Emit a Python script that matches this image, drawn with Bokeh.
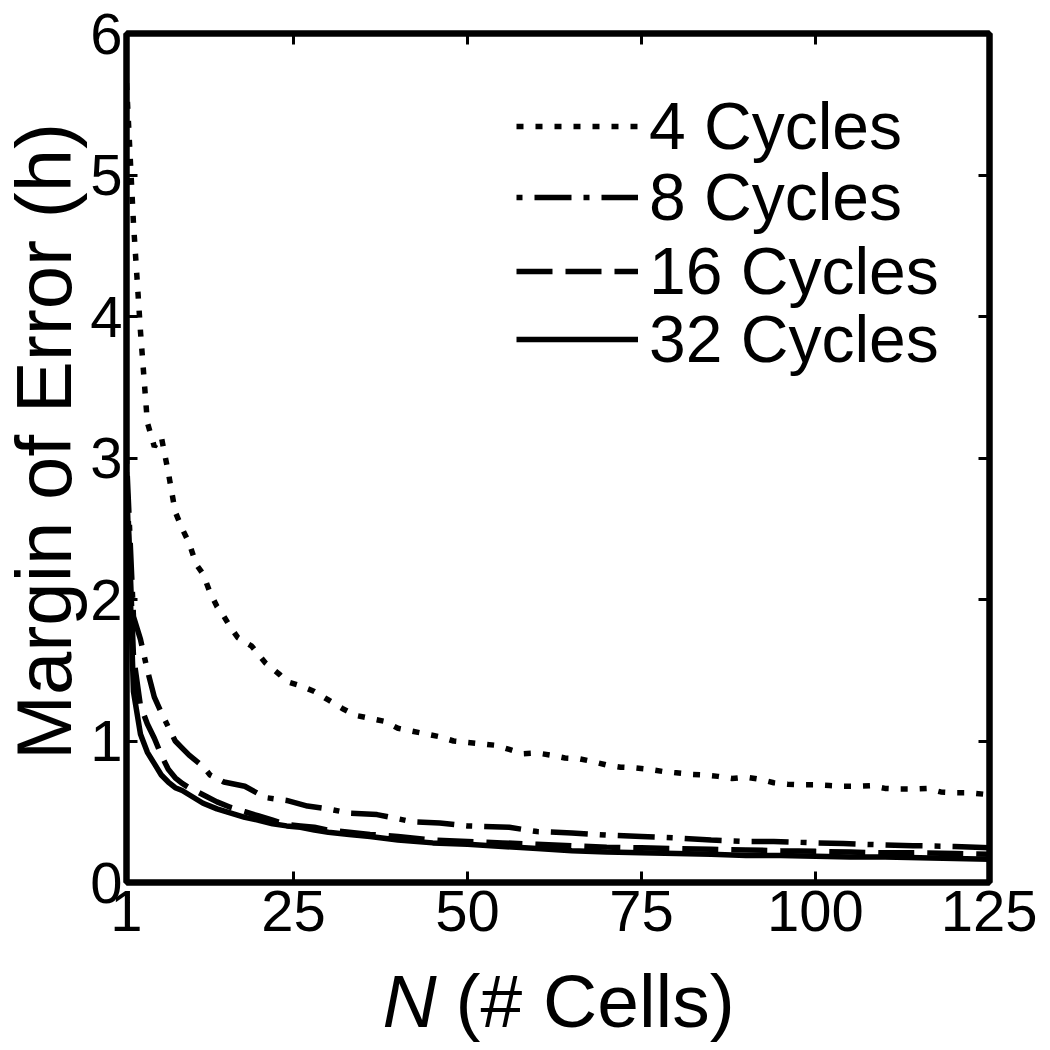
import math
from bokeh.plotting import figure
from bokeh.layouts import row, column
from bokeh.models import Label, Legend, LegendItem, LinearAxis, FixedTicker, Range1d
from bokeh.embed import file_html
from bokeh.resources import INLINE

# ---- data ----
x_ticks = [1, 25, 50, 75, 100, 125]
y_ticks = [0, 1, 2, 3, 4, 5, 6]

n4 = [1, 2, 3, 4, 5, 6, 7, 8, 9, 10, 11, 12, 13, 14, 15, 16, 17, 18, 19, 20, 21, 22, 23, 24,
      26, 28, 30, 32, 34, 36, 38, 40, 42, 44, 46, 48, 50, 52, 54, 56, 58, 60, 62, 64, 66, 68,
      70, 72, 74, 76, 78, 80, 82, 84, 86, 88, 90, 92, 94, 96, 98, 100, 102, 104, 106, 108,
      110, 112, 114, 116, 118, 120, 122, 125]
c4 = [5.65, 4.66, 3.9, 3.25, 3.08, 3.15, 2.9, 2.62, 2.5, 2.4, 2.25, 2.18, 2.05, 1.95, 1.88,
      1.8, 1.73, 1.7, 1.67, 1.61, 1.55, 1.51, 1.47, 1.42, 1.39, 1.35, 1.29, 1.23, 1.18, 1.16,
      1.14, 1.09, 1.07, 1.05, 1.03, 1.0, 0.99, 0.98, 0.97, 0.94, 0.91, 0.915, 0.9, 0.88, 0.875,
      0.855, 0.83, 0.815, 0.81, 0.8, 0.785, 0.775, 0.765, 0.76, 0.75, 0.735, 0.745, 0.73, 0.705,
      0.695, 0.69, 0.69, 0.685, 0.68, 0.68, 0.685, 0.665, 0.66, 0.66, 0.665, 0.64, 0.635,
      0.635, 0.62]

n8 = [1, 2, 3, 4, 5, 6, 7, 8, 9, 10, 12, 13, 15, 18, 21, 24, 27, 30, 33, 37, 42, 46, 50, 56,
      60, 65, 70, 75, 80, 85, 90, 94, 100, 104, 110, 114, 120, 125]
c8 = [3.0, 1.88, 1.72, 1.5, 1.31, 1.2, 1.1, 1.0, 0.95, 0.9, 0.82, 0.76, 0.71, 0.68, 0.6, 0.58,
      0.54, 0.52, 0.49, 0.48, 0.43, 0.42, 0.4, 0.39, 0.36, 0.35, 0.335, 0.325, 0.315, 0.3,
      0.29, 0.29, 0.28, 0.275, 0.265, 0.26, 0.255, 0.245]

n16 = [1, 2, 3, 4, 5, 6, 7, 8, 9, 10, 12, 14, 16, 18, 20, 22, 24, 26, 28, 30, 33, 36, 40, 45,
       50, 55, 60, 65, 70, 75, 80, 85, 90, 95, 100, 105, 110, 115, 120, 125]
c16 = [2.9, 1.6, 1.25, 1.12, 1.02, 0.9, 0.8, 0.74, 0.7, 0.67, 0.62, 0.57, 0.53, 0.5, 0.47,
       0.44, 0.41, 0.4, 0.39, 0.37, 0.355, 0.34, 0.325, 0.3, 0.29, 0.28, 0.27, 0.26, 0.25,
       0.245, 0.24, 0.235, 0.23, 0.225, 0.22, 0.215, 0.21, 0.21, 0.205, 0.2]

n32 = [1, 2, 3, 4, 5, 6, 7, 8, 9, 10, 12, 14, 16, 18, 20, 22, 24, 26, 28, 30, 33, 36, 40, 45,
       50, 55, 60, 65, 70, 75, 80, 85, 90, 95, 100, 105, 110, 115, 120, 125]
c32 = [2.85, 1.35, 1.05, 0.92, 0.84, 0.76, 0.71, 0.67, 0.65, 0.62, 0.56, 0.52, 0.49, 0.46,
       0.44, 0.415, 0.4, 0.39, 0.37, 0.355, 0.34, 0.325, 0.3, 0.28, 0.27, 0.255, 0.24, 0.225,
       0.215, 0.21, 0.205, 0.2, 0.19, 0.19, 0.185, 0.18, 0.18, 0.175, 0.17, 0.165]

labels = ["4 Cycles", "8 Cycles", "16 Cycles", "32 Cycles"]
y_label = "Margin of Error (h)"
x_label_var = "N"
x_label_rest = "(# Cells)"

FONT = "Liberation Sans"

# ---- layout sizes (pixels) ----
A = 87            # width of the y-label strip
LB, RB, TB, BB = 37, 48, 33, 76
FW, FH = 865, 849
B = LB + FW + RB
H1 = TB + FH + BB
H2 = 86

p = figure(width=B, height=H1, x_range=Range1d(1, 125), y_range=Range1d(0, 6),
           output_backend="svg", toolbar_location=None,
           min_border_left=LB, min_border_right=RB, min_border_top=TB, min_border_bottom=BB)

p.grid.visible = False
p.outline_line_color = "black"
p.outline_line_width = 6
p.background_fill_color = "white"
p.border_fill_color = "white"

def style_axis(ax, ticks, show_labels, standoff=6):
    ax.ticker = FixedTicker(ticks=ticks)
    ax.axis_line_color = "black"
    ax.axis_line_width = 6
    ax.major_tick_in = 11
    ax.major_tick_out = 0
    ax.major_tick_line_width = 3
    ax.major_tick_line_color = "black"
    ax.minor_tick_line_color = None
    if show_labels:
        ax.major_label_text_font = FONT
        ax.major_label_text_font_size = "58px"
        ax.major_label_text_color = "black"
        ax.major_label_standoff = standoff
    else:
        # mirrored ticks only: labels are not drawn at all
        ax.major_label_text_font_size = "1px"
        ax.major_label_text_color = None
        ax.major_label_text_alpha = 0
        ax.major_label_standoff = 0

style_axis(p.xaxis[0], x_ticks, True, 8)
style_axis(p.yaxis[0], y_ticks, True, 4)
top = LinearAxis()
right = LinearAxis()
style_axis(top, x_ticks, False)
style_axis(right, y_ticks, False)
p.add_layout(top, "above")
p.add_layout(right, "right")

lw = 5.5
r4 = p.line(n4, c4, line_color="black", line_width=lw, line_dash="7 12")
r8 = p.line(n8, c8, line_color="black", line_width=lw, line_dash="6 12 37 12")
r16 = p.line(n16, c16, line_color="black", line_width=lw, line_dash="36 13")
r32 = p.line(n32, c32, line_color="black", line_width=lw)

# one legend per entry, so each row can be placed where the reference has it
legend_y = [718, 647, 573, 505]
for lab, rend, ly in zip(labels, [r4, r8, r16, r32], legend_y):
    lg = Legend(items=[LegendItem(label=lab, renderers=[rend])],
                location=(390, ly), glyph_width=122, glyph_height=20, label_standoff=11,
                spacing=0, padding=0, margin=0, border_line_color=None,
                background_fill_alpha=0, label_text_font=FONT, label_text_color="black",
                label_text_font_size="66px", label_text_baseline="middle")
    p.add_layout(lg)

# ---- y-axis title strip (frame matches the main plot's frame vertically) ----
py = figure(width=A, height=H1, x_range=Range1d(0, A), y_range=Range1d(0, FH),
            output_backend="svg", toolbar_location=None, x_axis_type=None, y_axis_type=None,
            min_border_left=0, min_border_right=0, min_border_top=TB, min_border_bottom=BB)
py.grid.visible = False
py.outline_line_color = None
py.add_layout(Label(x=43.5, y=FH - 408, text=y_label, angle=math.pi / 2,
                    text_align="center", text_baseline="middle",
                    text_font=FONT, text_font_size="78px", text_color="black"))

# ---- x-axis title strip ----
W2 = A + B
px = figure(width=W2, height=H2, x_range=Range1d(0, W2), y_range=Range1d(0, H2),
            output_backend="svg", toolbar_location=None, x_axis_type=None, y_axis_type=None,
            min_border=0)
px.grid.visible = False
px.outline_line_color = None
px.add_layout(Label(x=382, y=44, text=x_label_var, text_align="left",
                    text_baseline="middle", text_font_style="italic",
                    text_font=FONT, text_font_size="75px", text_color="black"))
px.add_layout(Label(x=455, y=44, text=x_label_rest, text_align="left",
                    text_baseline="middle",
                    text_font=FONT, text_font_size="75px", text_color="black"))

layout = column(row(py, p, spacing=0), px, spacing=0)

open("out.html", "w").write(file_html(layout, INLINE))
